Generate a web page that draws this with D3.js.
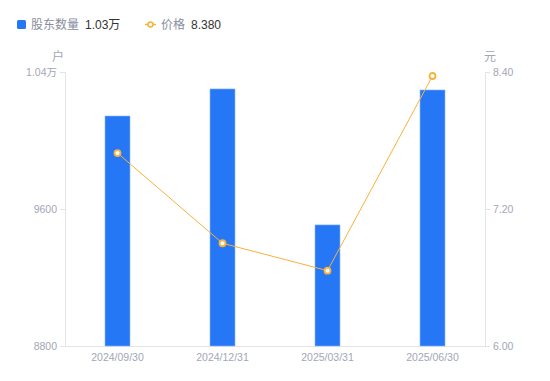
<!DOCTYPE html>
<html>
<head>
<meta charset="utf-8">
<script src="https://cdn.jsdelivr.net/npm/d3@7"></script>
<style>
  body { margin: 0; background: #fff; font-family: "Noto Sans CJK SC", "Liberation Sans", sans-serif; }
  svg text { font-family: "Liberation Sans", "Noto Sans CJK SC", sans-serif; }
</style>
</head>
<body>
<div id="container"></div>
<script>
// data
var dates = ["2024/09/30", "2024/12/31", "2025/03/31", "2025/06/30"];
var holders = [10143, 10301, 9507, 10295];
var prices = [7.69, 6.90, 6.66, 8.365];
var leftTicks = [8800, 9600, 10400];
var rightTicks = [6.00, 7.20, 8.40];
var lastPrice = 8.380;

var W = 550, H = 381,
margin = {top: 72, right: 65, bottom: 35, left: 65},
w = W - margin.left - margin.right,
h = H - margin.top - margin.bottom,
col = {bar: "#2677f5", barEdge: "#8bb6fa", line: "#f7b23b", axis: "#e3e4e8", label: "#a3a6b7"};

var svg = d3.select("#container").append("svg")
    .attr("width", W)
    .attr("height", H);

var g = svg.append("g")
    .attr("transform", "translate(" + margin.left + "," + margin.top + ")");

var x = d3.scaleBand().domain(dates).range([0, w]);
var yL = d3.scaleLinear().domain([8800, 10400]).range([h, 0]);
var yR = d3.scaleLinear().domain([6, 8.4]).range([h, 0]);

// axes
var axL = g.append("g")
    .call(d3.axisLeft(yL).tickValues(leftTicks).tickSize(5).tickPadding(3)
        .tickFormat(function(d) { return d >= 10000 ? (d / 10000).toFixed(2) + "万" : d; }));
var axR = g.append("g")
    .attr("transform", "translate(" + w + ",0)")
    .call(d3.axisRight(yR).tickValues(rightTicks).tickSize(5).tickPadding(3)
        .tickFormat(d3.format(".2f")));
var axB = g.append("g")
    .attr("transform", "translate(0," + h + ")")
    .call(d3.axisBottom(x).tickSize(0).tickPadding(8));

[axL, axR, axB].forEach(function(a) {
    a.select(".domain").attr("stroke", col.axis);
    a.selectAll(".tick line").attr("stroke", col.axis);
    a.selectAll("text").attr("fill", col.label).style("font-size", "10.5px");
});

// unit labels
svg.append("text").attr("x", 58).attr("y", 61).attr("text-anchor", "middle")
    .attr("fill", col.label).style("font-size", "12px").text("户");
svg.append("text").attr("x", 490).attr("y", 61).attr("text-anchor", "middle")
    .attr("fill", col.label).style("font-size", "12px").text("元");

// bars
var bw = 25;
g.selectAll(".bar")
    .data(holders)
    .enter()
    .append("rect")
        .attr("class", "bar")
        .attr("x", function(d, i) { return x(dates[i]) + x.bandwidth() / 2 - bw / 2; })
        .attr("y", function(d) { return yL(d); })
        .attr("width", bw)
        .attr("height", function(d) { return h - yL(d); })
        .attr("fill", col.bar)
        .attr("stroke", col.barEdge)
        .attr("stroke-width", 0.6);

// price line
var line = d3.line()
    .x(function(d, i) { return x(dates[i]) + x.bandwidth() / 2; })
    .y(function(d) { return yR(d); });

g.append("path")
    .datum(prices)
    .attr("d", line)
    .attr("fill", "none")
    .attr("stroke", col.line)
    .attr("stroke-width", 1);

g.selectAll(".pt")
    .data(prices)
    .enter()
    .append("circle")
        .attr("class", "pt")
        .attr("cx", function(d, i) { return x(dates[i]) + x.bandwidth() / 2; })
        .attr("cy", function(d) { return yR(d); })
        .attr("r", 3)
        .attr("fill", "#fff")
        .attr("stroke", col.line)
        .attr("stroke-width", 1.8);

// legend
var lg = svg.append("g").style("font-size", "12px");
lg.append("rect").attr("x", 17).attr("y", 20).attr("width", 9).attr("height", 9)
    .attr("rx", 1.5).attr("fill", col.bar);
lg.append("text").attr("x", 31).attr("y", 29).attr("fill", "#8a8d9c").text("股东数量");
lg.append("text").attr("x", 85).attr("y", 29).attr("fill", "#333").text((holders[3] / 10000).toFixed(2) + "万");
lg.append("line").attr("x1", 145).attr("x2", 156).attr("y1", 24.5).attr("y2", 24.5)
    .attr("stroke", col.line).attr("stroke-width", 1.5);
lg.append("circle").attr("cx", 150.5).attr("cy", 24.5).attr("r", 2.5)
    .attr("fill", "#fff").attr("stroke", col.line).attr("stroke-width", 1.5);
lg.append("text").attr("x", 161).attr("y", 29).attr("fill", "#8a8d9c").text("价格");
lg.append("text").attr("x", 191).attr("y", 29).attr("fill", "#333").text(lastPrice.toFixed(3));
</script>
</body>
</html>
